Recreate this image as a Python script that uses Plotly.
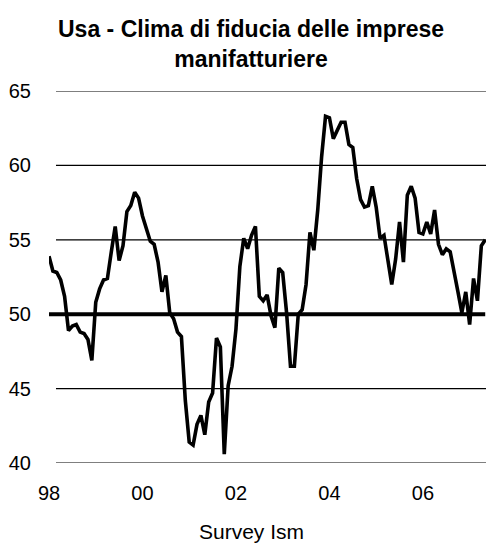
import plotly.graph_objects as go

# indice ISM manifatturiero, mensile gen-1998 .. mag-2007
anni = ['98', '99', '00', '01', '02', '03', '04', '05', '06', '07']
ism_1998 = [53.9, 52.9, 52.8, 52.3, 51.2, 48.9, 49.2, 49.3, 48.8, 48.7, 48.3, 46.9]
ism_1999 = [50.8, 51.7, 52.3, 52.4, 54.2, 55.9, 53.6, 54.6, 56.9, 57.3, 58.2, 57.8]
ism_2000 = [56.6, 55.8, 54.9, 54.7, 53.5, 51.5, 52.6, 50.1, 49.7, 48.8, 48.5, 44.2]
ism_2001 = [41.4, 41.2, 42.6, 43.2, 41.9, 44.1, 44.7, 48.4, 47.8, 40.6, 45.2, 46.5]
ism_2002 = [49.0, 53.2, 55.1, 54.4, 55.3, 55.9, 51.2, 50.9, 51.3, 49.9, 49.1, 53.1]
ism_2003 = [52.8, 50.1, 46.5, 46.5, 50.0, 50.3, 52.0, 55.5, 54.3, 57.0, 60.6, 63.3]
ism_2004 = [63.2, 61.8, 62.4, 62.9, 62.9, 61.4, 61.2, 59.1, 57.7, 57.2, 57.3, 58.6]
ism_2005 = [57.2, 55.1, 55.3, 53.7, 52.0, 53.7, 56.2, 53.5, 58.0, 58.6, 57.8, 55.5]
ism_2006 = [55.4, 56.2, 55.4, 57.0, 54.7, 54.0, 54.4, 54.2, 52.7, 51.5, 50.1, 51.5]
ism_2007 = [49.3, 52.4, 50.9, 54.6, 55.0]
soglia = 50
livelli_griglia = [40, 45, 55, 60, 65]
etichette_x = ['98', '00', '02', '04', '06']

ism = (ism_1998 + ism_1999 + ism_2000 + ism_2001 + ism_2002 + ism_2003
       + ism_2004 + ism_2005 + ism_2006 + ism_2007)
mesi = list(range(len(ism)))
tick_mesi = [12 * anni.index(a) for a in etichette_x]

FONT = 'Arial, Liberation Sans, sans-serif'

fig = go.Figure()
fig.add_trace(go.Scatter(x=[mesi[0], mesi[-1]], y=[soglia, soglia], mode='lines',
                         line=dict(color='black', width=4), hoverinfo='skip'))
fig.add_trace(go.Scatter(x=mesi, y=ism, mode='lines', name='Survey Ism',
                         line=dict(color='black', width=3.6)))

for lv in livelli_griglia:
    fig.add_shape(type='line', xref='x domain', yref='y', x0=0.016, x1=1, y0=lv, y1=lv,
                  line=dict(color='black', width=1.2), layer='below')

# titolo e nome della serie come annotazioni (posizione controllata)
fig.add_annotation(text='<b>Usa - Clima di fiducia delle imprese<br>manifatturiere</b>',
                   xref='paper', yref='paper', x=0.463, y=1.126, xanchor='center',
                   yanchor='middle', showarrow=False, font=dict(size=23))
fig.add_annotation(text='Survey Ism', xref='paper', yref='paper', x=0.463, y=-0.185,
                   xanchor='center', yanchor='middle', showarrow=False,
                   font=dict(size=21))

# la pagina ha 8px di margine: figura ridotta per stare nella finestra senza scroll
fig.update_layout(
    width=478, height=535,
    margin=dict(l=41, r=0, t=83, b=80),
    paper_bgcolor='white', plot_bgcolor='white',
    showlegend=False,
    font=dict(family=FONT, color='black', size=20),
    xaxis=dict(range=[0, mesi[-1] + 0.2], tickvals=tick_mesi, ticktext=etichette_x,
               showgrid=False, zeroline=False, showline=False, ticks='',
               ticklabelstandoff=16, automargin=False),
    yaxis=dict(range=[40, 65], tickvals=[40, 45, 50, 55, 60, 65],
               showgrid=False, zeroline=False, showline=False, ticks='',
               ticklabelstandoff=17, automargin=False),
)

fig.write_html('out.html')
